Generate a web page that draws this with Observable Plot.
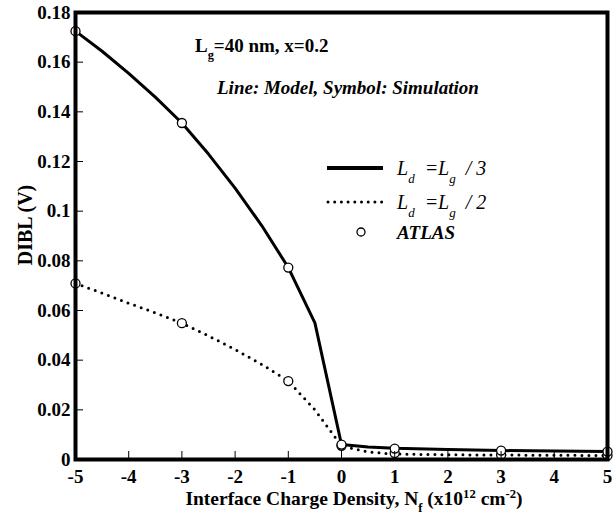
<!DOCTYPE html>
<html>
<head>
<meta charset="utf-8">
<script src="https://cdn.jsdelivr.net/npm/d3@7"></script>
<script src="https://cdn.jsdelivr.net/npm/@observablehq/plot@0.6"></script>
<style>
  html, body { margin: 0; padding: 0; background: white; }
</style>
</head>
<body>
<div id="chart"></div>
<script>
// Model curves (lines)
const modelNf = [-5, -4.5, -4, -3.5, -3, -2.5, -2, -1.5, -1, -0.5, 0, 0.5, 1, 2, 3, 4, 5];
const modelLd3 = [0.1725, 0.1644, 0.1555, 0.1459, 0.1355, 0.1230, 0.1093, 0.0942, 0.0773, 0.0550, 0.0060, 0.0050, 0.0045, 0.0040, 0.0036, 0.0034, 0.0032];
const modelLd2 = [0.0709, 0.0670, 0.0629, 0.0591, 0.0549, 0.0498, 0.0443, 0.0383, 0.0316, 0.0200, 0.0055, 0.0030, 0.0022, 0.0019, 0.0018, 0.0017, 0.0016];
// ATLAS simulation (symbols)
const simNf = [-5, -3, -1, 0, 1, 3, 5];
const simLd3 = [0.1725, 0.1355, 0.0773, 0.0060, 0.0044, 0.0036, 0.0032];
const simLd2 = [0.0709, 0.0549, 0.0316, 0.0055, 0.0026, 0.0019, 0.0016];
// Ticks
const xTicks = [-5, -4, -3, -2, -1, 0, 1, 2, 3, 4, 5];
const yTicks = [0, 0.02, 0.04, 0.06, 0.08, 0.1, 0.12, 0.14, 0.16, 0.18];
const yTickLabels = ["0", "0.02", "0.04", "0.06", "0.08", "0.1", "0.12", "0.14", "0.16", "0.18"];

const model = modelNf.map((x, i) => ({x, d3: modelLd3[i], d2: modelLd2[i]}));
const sim = simNf.map((x, i) => ({x, d3: simLd3[i], d2: simLd2[i]}));

const W = 615, H = 514, mL = 75, mR = 8, mT = 12, mB = 55;
const plotW = W - mL - mR, plotH = H - mT - mB;
const serif = "'Liberation Serif', 'Times New Roman', serif";

const plot = Plot.plot({
  width: W, height: H,
  marginLeft: mL, marginRight: mR, marginTop: mT, marginBottom: mB,
  x: {domain: [-5, 5]},
  y: {domain: [0, 0.18]},
  style: {fontFamily: serif, fontWeight: "bold", fontSize: "19px", color: "black", background: "white"},
  marks: [
    Plot.line(model, {x: "x", y: "d2", stroke: "black", strokeWidth: 3, strokeDasharray: "0 7", strokeLinecap: "round"}),
    Plot.line(model, {x: "x", y: "d3", stroke: "black", strokeWidth: 3}),
    Plot.dot(sim, {x: "x", y: "d2", r: 4.5, fill: "white", stroke: "black", strokeWidth: 1.3}),
    Plot.dot(sim, {x: "x", y: "d3", r: 4.5, fill: "white", stroke: "black", strokeWidth: 1.3}),
    Plot.tickX(xTicks, {x: d => d, stroke: "black", strokeWidth: 1, insetTop: plotH - 8}),
    Plot.tickY(yTicks, {y: d => d, stroke: "black", strokeWidth: 1, insetRight: plotW - 8}),
    Plot.axisX({ticks: xTicks, tickSize: 0, tickPadding: 10, tickFormat: d => String(d), label: null}),
    Plot.axisY({ticks: yTicks, tickSize: 0, tickPadding: 5, tickFormat: (d, i) => yTickLabels[i], label: null}),
    Plot.frame({stroke: "black", strokeWidth: 4})
  ]
});
document.getElementById("chart").appendChild(plot);

const svg = d3.select(plot);
const g = svg.append("g")
  .attr("font-family", serif)
  .attr("fill", "black")
  .attr("text-anchor", "start")
  .attr("font-weight", "normal");

// helper: rich text with sub/superscripts
function rich(x, y, parts, attrs) {
  const t = g.append("text").attr("x", x).attr("y", y);
  for (const [k, v] of Object.entries(attrs || {})) t.attr(k, v);
  for (const p of parts) {
    const s = t.append("tspan").text(p.t);
    if (p.sub) s.attr("baseline-shift", "sub").attr("font-size", "65%");
    if (p.sup) s.attr("baseline-shift", "super").attr("font-size", "65%");
  }
  return t;
}

// Axis titles
rich(354, 505, [
  {t: "Interface Charge Density, N"}, {t: "f", sub: true}, {t: " (x10"}, {t: "12", sup: true},
  {t: " cm"}, {t: "-2", sup: true}, {t: ")"}
], {"text-anchor": "middle", "font-weight": "bold", "font-size": "19.5px"});

g.append("text")
  .attr("transform", "translate(32,225) rotate(-90)")
  .attr("text-anchor", "middle")
  .attr("font-weight", "bold").attr("font-size", "20px")
  .text("DIBL (V)");

// Annotations
rich(195, 52, [{t: "L"}, {t: "g", sub: true}, {t: "=40 nm, x=0.2"}],
  {"font-weight": "bold", "font-size": "19px"});
rich(217, 94, [{t: "Line: Model, Symbol: Simulation"}],
  {"font-weight": "bold", "font-style": "italic", "font-size": "19px"});

// Legend
g.append("line").attr("x1", 327).attr("x2", 383).attr("y1", 168).attr("y2", 168)
  .attr("stroke", "black").attr("stroke-width", 4);
rich(397, 175, [{t: "L"}, {t: "d", sub: true}, {t: "  =L"}, {t: "g", sub: true}, {t: "  / 3"}],
  {"font-style": "italic", "font-size": "20px"});
g.append("line").attr("x1", 328).attr("x2", 382).attr("y1", 202).attr("y2", 202)
  .attr("stroke", "black").attr("stroke-width", 3)
  .attr("stroke-dasharray", "0 6.7").attr("stroke-linecap", "round");
rich(397, 209, [{t: "L"}, {t: "d", sub: true}, {t: "  =L"}, {t: "g", sub: true}, {t: "  / 2"}],
  {"font-style": "italic", "font-size": "20px"});
g.append("circle").attr("cx", 361).attr("cy", 232).attr("r", 4)
  .attr("fill", "white").attr("stroke", "black").attr("stroke-width", 1.3);
rich(397, 239, [{t: "ATLAS"}], {"font-weight": "bold", "font-style": "italic", "font-size": "19px"});
</script>
</body>
</html>
